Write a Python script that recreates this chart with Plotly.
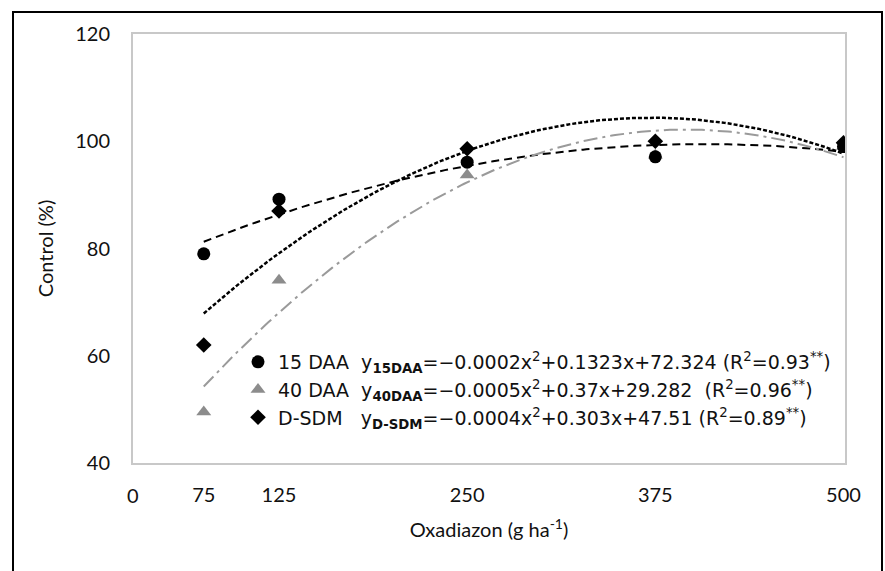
import numpy as np
import plotly.graph_objects as go

# ---- data ----
doses = [75, 125, 250, 375, 500]
daa15 = [79.0, 89.2, 96.1, 97.1, 99.0]
daa40 = [49.5, 74.1, 93.7, 97.4, 99.0]
dsdm = [62.0, 87.0, 98.6, 100.0, 99.7]

x_ticks = [75, 125, 250, 375, 500]
x_ticktext = ["75", "125", "250", "375", "500"]
y_ticks = [40, 60, 80, 100, 120]

names = [
    "15 DAA  y<sub><b>15DAA</b></sub>=\u22120.0002x<sup>2</sup>+0.1323x+72.324 (R<sup>2</sup>=0.93<sup>**</sup>)",
    "40 DAA  y<sub><b>40DAA</b></sub>=\u22120.0005x<sup>2</sup>+0.37x+29.282  (R<sup>2</sup>=0.96<sup>**</sup>)",
    "D-SDM   y<sub><b>D-SDM</b></sub>=\u22120.0004x<sup>2</sup>+0.303x+47.51 (R<sup>2</sup>=0.89<sup>**</sup>)",
]

FONT = "Lato"
LEG_FONT = "DejaVu Sans"
W, H = 885, 571
L, R, T, B = 133, 40, 34, 108
pw, ph = W - L - R, H - T - B


def px2paper_x(px):
    return (px - L) / pw


def px2paper_y(py):
    return (H - B - py) / ph


fig = go.Figure()

xs = np.linspace(min(doses), max(doses), 200)
series = [
    (daa15, "#000000", dict(dash="8px,5px", width=2)),
    (daa40, "#9a9a9a", dict(dash="14px,5px,3px,5px", width=2)),
    (dsdm, "#000000", dict(dash="4px,2px", width=2.5)),
]
for ys, col, ln in series:
    c = np.polyfit(doses, ys, 2)
    fig.add_trace(go.Scatter(x=xs, y=np.polyval(c, xs), mode="lines",
                             line=dict(color=col, **ln), showlegend=False,
                             hoverinfo="skip"))

fig.add_trace(go.Scatter(x=doses, y=daa40, mode="markers", name=names[1],
                         marker=dict(symbol="triangle-up", size=13, color="#8c8c8c"),
                         legendrank=2))
fig.add_trace(go.Scatter(x=doses, y=daa15, mode="markers", name=names[0],
                         marker=dict(symbol="circle", size=13, color="#000000"),
                         legendrank=1))
fig.add_trace(go.Scatter(x=doses, y=dsdm, mode="markers", name=names[2],
                         marker=dict(symbol="diamond", size=12, color="#000000"),
                         legendrank=3))

fig.update_layout(
    width=W, height=H,
    margin=dict(l=L, r=R, t=T, b=B),
    paper_bgcolor="white", plot_bgcolor="white",
    font=dict(family=FONT, color="#111111", size=18),
    showlegend=True,
    legend=dict(x=px2paper_x(238), y=px2paper_y(343), xanchor="left", yanchor="top",
                bgcolor="rgba(0,0,0,0)", font=dict(size=19, family=LEG_FONT),
                itemwidth=30, tracegroupgap=0),
    xaxis=dict(range=[28, 501], tickvals=x_ticks, ticktext=x_ticktext,
               showgrid=False, zeroline=False, showline=True, mirror=True,
               linecolor="#c8c8c8", linewidth=2, ticks="",
               ticklabelstandoff=13, tickfont=dict(size=20, family=FONT),
               title=dict(text="Oxadiazon (g ha<sup>-1</sup>)", standoff=18,
                          font=dict(size=20, family=FONT))),
    yaxis=dict(range=[40, 120], tickvals=y_ticks, showgrid=False, zeroline=False,
               showline=True, mirror=True, linecolor="#c8c8c8", linewidth=2,
               ticks="", ticklabelstandoff=17, tickfont=dict(size=20, family=FONT),
               title=dict(text="Control (%)", standoff=16,
                          font=dict(size=20, family=FONT))),
)

fig.add_annotation(text="0", xref="paper", yref="paper", x=0, y=px2paper_y(495),
                   showarrow=False, xanchor="center", yanchor="middle",
                   font=dict(size=20, family=FONT))

fig.add_shape(type="rect", xref="paper", yref="paper",
              x0=px2paper_x(13), x1=px2paper_x(882),
              y0=px2paper_y(580), y1=px2paper_y(12),
              line=dict(color="black", width=2), fillcolor="rgba(0,0,0,0)")

fig.write_html("out.html", config={"displayModeBar": False},
               post_script="document.body.style.margin='0';")
